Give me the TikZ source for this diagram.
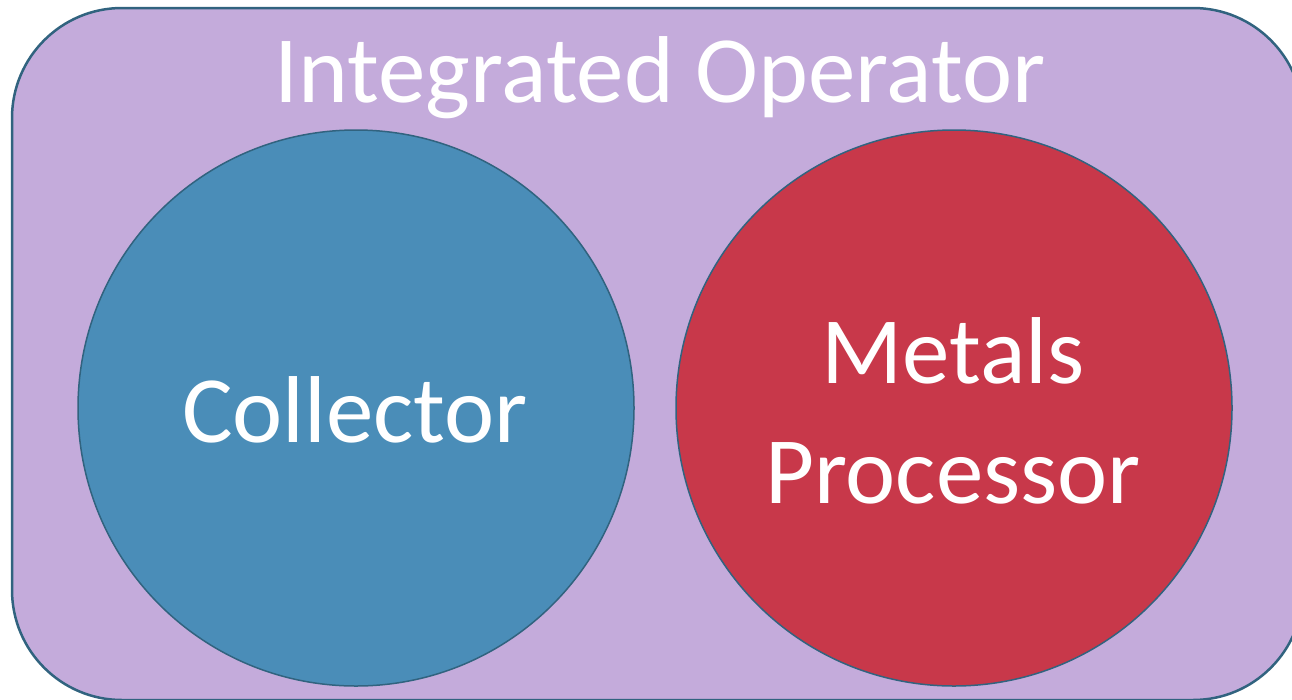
\documentclass[tikz,border=0pt]{standalone}
\usepackage{fontspec}
\setmainfont{Carlito}
\definecolor{opfill}{RGB}{196,171,219}
\definecolor{colfill}{RGB}{74,141,184}
\definecolor{metfill}{RGB}{200,56,74}
\definecolor{rim}{RGB}{49,99,127}
\tikzset{
  bigtext/.style={text=white, font=\fontsize{95}{120}\selectfont, inner sep=0pt, anchor=base},
  party/.style={circle, draw=rim, line width=1.5pt, minimum size=556pt, inner sep=0pt}
}
\begin{document}
\begin{tikzpicture}[x=1pt, y=-1pt]
  \useasboundingbox (0,0) rectangle (1292,699);
  \clip (0,0) rectangle (1292,699);
  % outer operator frame
  \draw[fill=opfill, draw=rim, line width=2.5pt, rounded corners=110pt]
    (12,8) rectangle (1303,700);
  \node[bigtext] (title) at (660,102) {Integrated Operator};
  % the two parties inside
  \node[party, fill=colfill] (collector) at (356,408) {};
  \node[party, fill=metfill] (processor) at (954,408) {};
  \node[bigtext] (coltext) at (355,442) {Collector};
  % base anchor of a two-line node sits on its last line
  \node[bigtext, align=center] (mettext) at (953,503) {Metals\\Processor};
\end{tikzpicture}
\end{document}
